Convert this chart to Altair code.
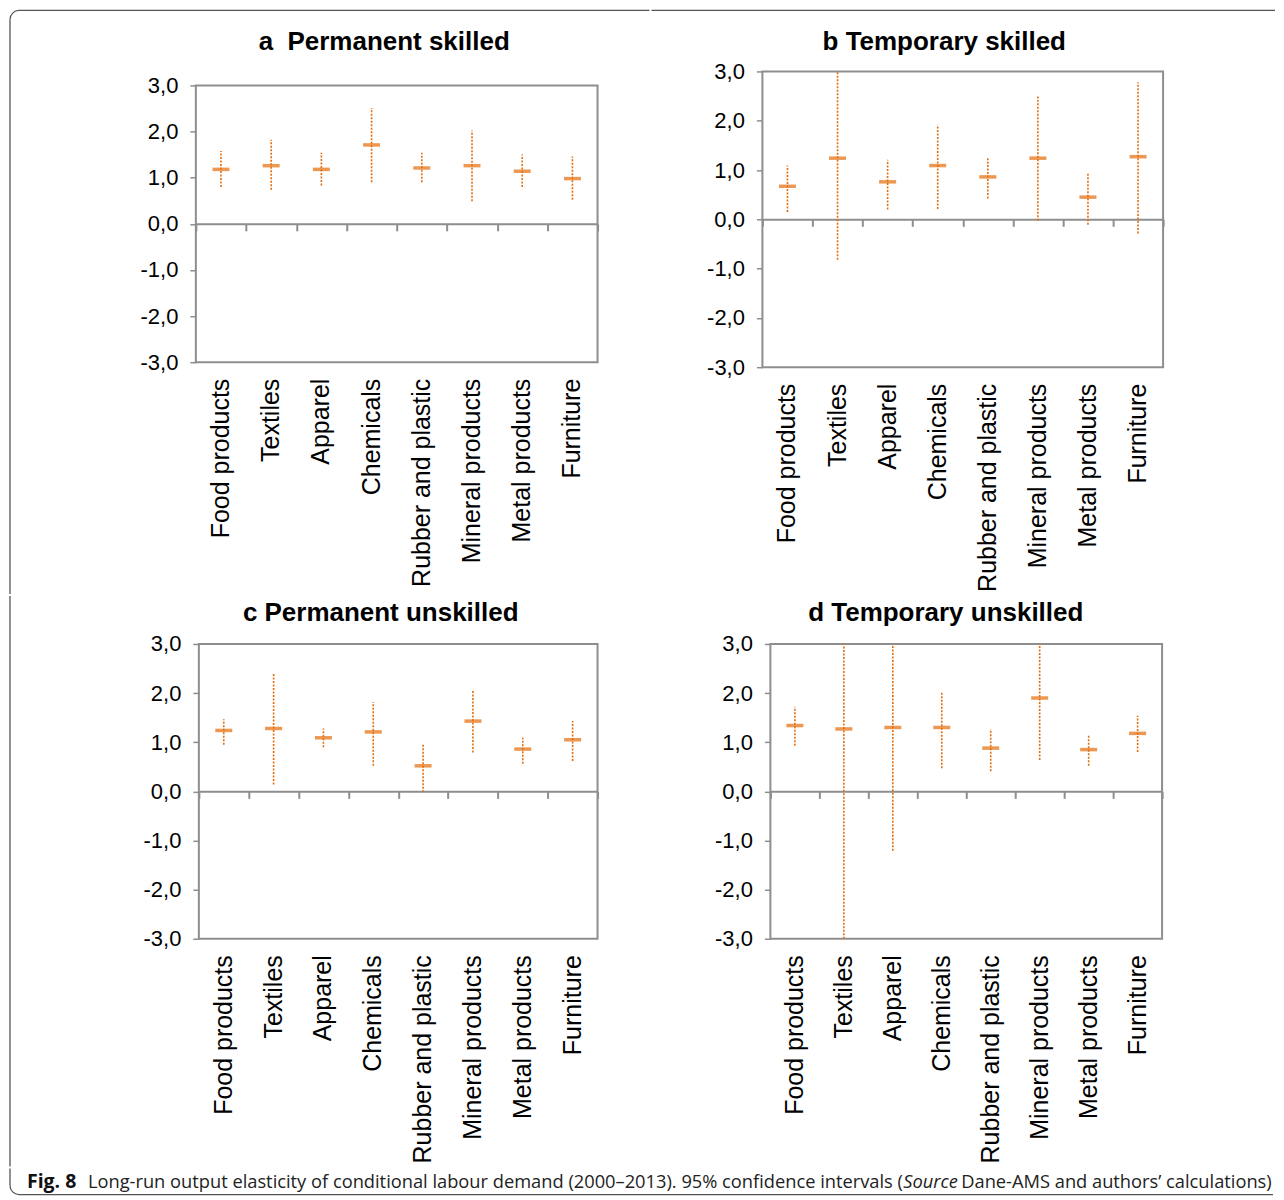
import altair as alt
import pandas as pd

categories = ["Food products", "Textiles", "Apparel", "Chemicals",
              "Rubber and plastic", "Mineral products", "Metal products", "Furniture"]

titles = ["a\u00a0\u00a0Permanent skilled", "b Temporary skilled",
          "c Permanent unskilled", "d Temporary unskilled"]

a_est = [1.18, 1.26, 1.18, 1.71, 1.21, 1.26, 1.14, 0.98]
a_lo = [0.80, 0.74, 0.83, 0.90, 0.90, 0.49, 0.80, 0.52]
a_hi = [1.58, 1.82, 1.54, 2.51, 1.54, 2.02, 1.50, 1.46]

b_est = [0.67, 1.24, 0.76, 1.09, 0.86, 1.24, 0.45, 1.27]
b_lo = [0.15, -0.82, 0.20, 0.21, 0.42, -0.03, -0.11, -0.29]
b_hi = [1.09, 3.00, 1.21, 1.92, 1.27, 2.49, 0.94, 2.78]

c_est = [1.24, 1.28, 1.09, 1.21, 0.52, 1.43, 0.86, 1.05]
c_lo = [0.95, 0.14, 0.90, 0.52, -0.02, 0.79, 0.56, 0.62]
c_hi = [1.47, 2.42, 1.28, 1.82, 0.98, 2.07, 1.09, 1.43]

d_est = [1.34, 1.27, 1.30, 1.30, 0.88, 1.90, 0.85, 1.18]
d_lo = [0.93, -3.00, -1.21, 0.47, 0.41, 0.64, 0.52, 0.80]
d_hi = [1.72, 3.00, 3.00, 2.03, 1.27, 3.00, 1.16, 1.54]

y_ticks = [-3, -2, -1, 0, 1, 2, 3]

caption_bold = "Fig. 8"
caption_main = ("Long-run output elasticity of conditional labour demand (2000\u20132013). "
                "95% confidence intervals (")
caption_italic = "Source"
caption_end = "Dane-AMS and authors\u2019 calculations)"

FONT = "Liberation Sans"
CAP_FONT = "Open Sans"
ORANGE = "#E46C0A"
GRAY = "#8e8e8e"
EDGE = "#555555"
HW = 0.65  # half width of the outer figure border
one = pd.DataFrame({"k": [0]})


def hline(x1, x2, y):
    return alt.Chart(one).mark_rect(fill=EDGE).encode(
        x=alt.value(x1), x2=alt.value(x2), y=alt.value(y - HW), y2=alt.value(y + HW))


def vline(x, y1, y2):
    return alt.Chart(one).mark_rect(fill=EDGE).encode(
        x=alt.value(x - HW), x2=alt.value(x + HW), y=alt.value(y1), y2=alt.value(y2))


def corner(cx, cy, t1, t2):
    return alt.Chart(one).mark_arc(theta=t1, theta2=t2, radius=9 + HW,
                                   radius2=9 - HW, fill=EDGE).encode(
        x=alt.value(cx), y=alt.value(cy))


def panel(title, est, lo, hi, w, h, x0, x1, y0, y1, tx, ty, extras):
    df = pd.DataFrame({"sector": categories, "est": est, "lo": lo, "hi": hi})
    base = alt.Chart(df)
    xscale = alt.Scale(type="band", domain=categories, range=[x0, x1],
                       paddingInner=0, paddingOuter=0)
    yscale = alt.Scale(domain=[-3, 3], nice=False, range=[y1, y0])
    yaxis = alt.Axis(values=y_ticks,
                     labelExpr="(datum.value < 0 ? '-' : '') + "
                               "replace(format(abs(datum.value), '.1f'), '.', ',')",
                     tickSize=6, tickColor=GRAY, tickWidth=1.5, domain=False, grid=False,
                     labelPadding=12, labelFontSize=22, labelFont=FONT, labelColor="black",
                     offset=-x0, title=None)
    xaxis_labels = alt.Axis(orient="bottom", labelAngle=-90, ticks=False, domain=False,
                            labelPadding=16 + (h - y1), labelFontSize=25, labelFont=FONT,
                            labelColor="black", labelLimit=0, title=None, grid=False)
    zero_y = (y0 + y1) / 2
    xaxis_zero = alt.Axis(orient="bottom", offset=-(h - zero_y), labels=False, ticks=True,
                          tickBand="extent", tickSize=7, tickColor=GRAY, tickWidth=2,
                          domain=True, domainColor=GRAY, domainWidth=2, grid=False,
                          title=None)
    frame = alt.Chart(one).mark_rect(fill="transparent", stroke=GRAY, strokeWidth=2).encode(
        x=alt.value(x0), x2=alt.value(x1), y=alt.value(y0), y2=alt.value(y1))
    rules = base.mark_rule(color=ORANGE, strokeDash=[2, 1.5], strokeWidth=1.6).encode(
        x=alt.X("sector:N", scale=xscale, axis=xaxis_labels, sort=categories),
        y=alt.Y("lo:Q", scale=yscale, axis=yaxis),
        y2="hi:Q",
    )
    ticks = base.mark_tick(color=ORANGE, size=17, thickness=3.5).encode(
        x=alt.X("sector:N", scale=xscale, axis=xaxis_zero, sort=categories),
        y=alt.Y("est:Q", scale=yscale),
    )
    head = alt.Chart(one).mark_text(align="center", baseline="alphabetic", font=FONT,
                                    fontSize=26, fontWeight="bold", color="black").encode(
        x=alt.value(tx), y=alt.value(ty), text=alt.value(title))
    return alt.layer(frame, rules, ticks, head, *extras).resolve_axis(
        x="independent").properties(width=w, height=h)


# origins: column 1 at page x 196, column 2 at 761; row 1 at y 71, row 2 at 642
pa = panel(titles[0], a_est, a_lo, a_hi, 402, 291, 0, 402, 14, 291, 188.5, -21.5,
           [hline(-177, 454, -61), corner(-177, -52, 4.712389, 6.283185),
            vline(-186, -52, 523)])
pb = panel(titles[1], b_est, b_lo, b_hi, 401, 296, 0, 401, 0, 296, 182, -21.5,
           [hline(-111, 513, -61)])
pc = panel(titles[2], c_est, c_lo, c_hi, 402, 295, 3, 402, 0, 295, 185, -23,
           [vline(-186, -48, 523)])
pd_ = panel(titles[3], d_est, d_lo, d_hi, 400, 295, 8, 400, 0, 295, 183.5, -23, [])

grid = alt.concat(pa, pb, pc, pd_, columns=2, spacing=0, align="each")

cap_y = 19.5
CS = 18.3
t1 = alt.Chart(one).mark_text(align="left", baseline="alphabetic", font=CAP_FONT,
                              fontSize=19.5, fontWeight="bold", color="#111111").encode(
    x=alt.value(-169), y=alt.value(cap_y), text=alt.value(caption_bold))
t2 = alt.Chart(one).mark_text(align="left", baseline="alphabetic", font=CAP_FONT,
                              fontSize=CS, color="#222222").encode(
    x=alt.value(-108), y=alt.value(cap_y), text=alt.value(caption_main))
t3 = alt.Chart(one).mark_text(align="left", baseline="alphabetic", font=CAP_FONT,
                              fontSize=CS, fontStyle="italic", color="#222222").encode(
    x=alt.value(708), y=alt.value(cap_y), text=alt.value(caption_italic))
t4 = alt.Chart(one).mark_text(align="left", baseline="alphabetic", font=CAP_FONT,
                              fontSize=CS, color="#222222").encode(
    x=alt.value(766), y=alt.value(cap_y), text=alt.value(caption_end))
framechart = alt.layer(
    vline(-186, 0, 17), corner(-177, 17, 3.141593, 4.712389), hline(-177, 1078, 26),
    t1, t2, t3, t4,
).properties(width=1078, height=26)

chart = alt.vconcat(grid, framechart, spacing=0).properties(
    padding={"left": 0, "top": 0, "right": 0, "bottom": 0}
).configure(font=FONT).configure_view(stroke="transparent")

chart.save("out.html", embed_options={"renderer": "svg", "actions": False})
